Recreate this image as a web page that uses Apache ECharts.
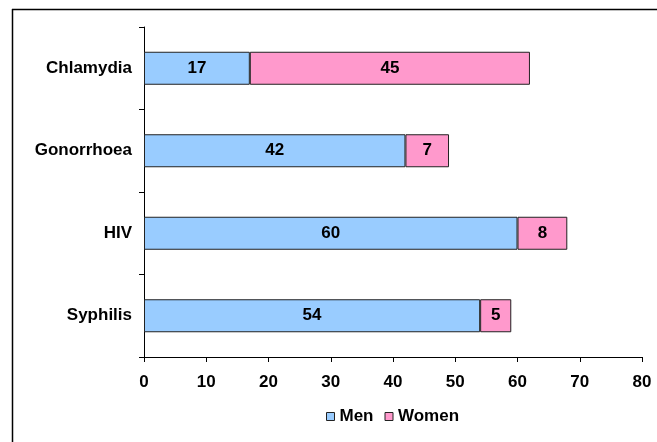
<!DOCTYPE html>
<html>
<head>
<meta charset="utf-8">
<script src="https://cdn.jsdelivr.net/npm/echarts@6/dist/echarts.min.js"></script>
<style>
  html, body { margin: 0; padding: 0; background: #fff; }
  #main { width: 657px; height: 442px; }
</style>
</head>
<body>
<div id="main"></div>
<script>
// categories, bottom to top as echarts draws them
var categories = ["Syphilis", "HIV", "Gonorrhoea", "Chlamydia"];
var menValues = [54, 60, 42, 17];
var womenValues = [5, 8, 7, 45];
var xTicks = { min: 0, max: 80, interval: 10 };

var myChart = echarts.init(document.getElementById("main"));
var labelStyle = {
  show: true,
  position: "inside",
  color: "#000",
  fontFamily: "Liberation Sans, Arial",
  fontWeight: "bold",
  fontSize: 17,
};

myChart.setOption({
  animation: false,
  textStyle: { fontFamily: "Liberation Sans, Arial" },
  // 外框：只有上边和左边
  graphic: [
    { type: "line", shape: { x1: 12, y1: 9.5, x2: 657, y2: 9.5 }, style: { stroke: "#000", lineWidth: 1.5 } },
    { type: "line", shape: { x1: 12.5, y1: 9, x2: 12.5, y2: 442 }, style: { stroke: "#000", lineWidth: 1.5 } },
  ],
  grid: { left: 144, right: 15, top: 27, bottom: 85 },
  legend: {
    bottom: 12,
    left: 321,
    itemWidth: 8,
    itemHeight: 8,
    itemGap: 11,
    icon: "rect",
    itemStyle: { borderColor: "#222", borderWidth: 1 },
    textStyle: { fontWeight: "bold", fontSize: 17, color: "#000", padding: [0, 0, 0, 0] },
    data: ["Men", "Women"],
  },
  xAxis: {
    type: "value",
    min: xTicks.min,
    max: xTicks.max,
    interval: xTicks.interval,
    splitLine: { show: false },
    axisLine: { show: true, lineStyle: { color: "#000" } },
    axisTick: { show: true, length: 5, lineStyle: { color: "#000" } },
    axisLabel: { color: "#000", fontWeight: "bold", fontSize: 17, margin: 17 },
  },
  yAxis: {
    type: "category",
    data: categories,
    axisLine: { show: true, lineStyle: { color: "#000" } },
    axisTick: { show: true, length: 5, lineStyle: { color: "#000" } },
    axisLabel: { color: "#000", fontWeight: "bold", fontSize: 17, margin: 12 },
  },
  series: [
    {
      name: "Men",
      type: "bar",
      stack: "total",
      barWidth: "40%",
      data: menValues,
      itemStyle: { color: "#99CCFF", borderColor: "#222", borderWidth: 1 },
      label: labelStyle,
    },
    {
      name: "Women",
      type: "bar",
      stack: "total",
      data: womenValues,
      itemStyle: { color: "#FF99CC", borderColor: "#222", borderWidth: 1 },
      label: labelStyle,
    },
  ],
});
</script>
</body>
</html>
